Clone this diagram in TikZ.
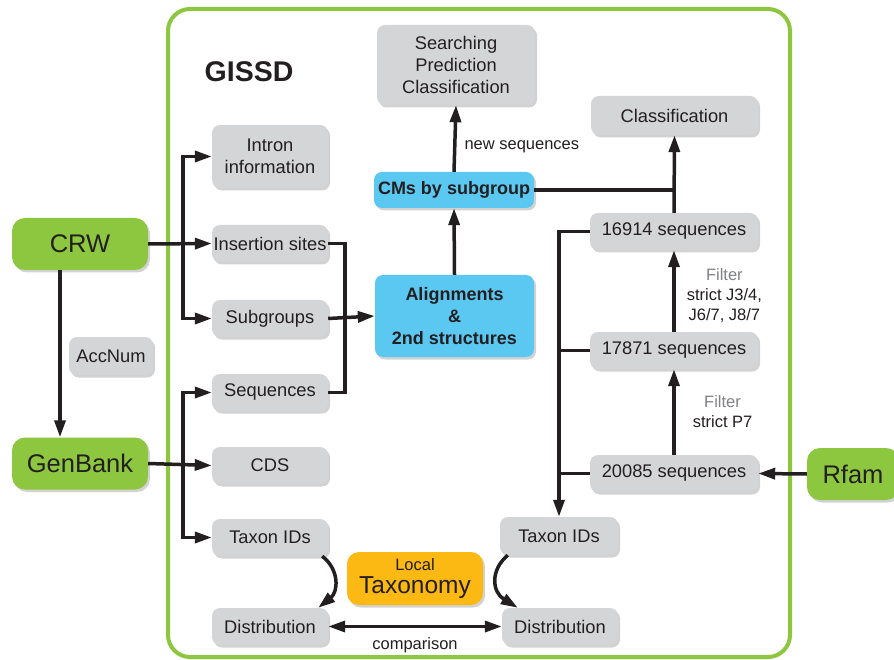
\documentclass[tikz,border=0pt]{standalone}
\usepackage{fontspec}
\setmainfont{Liberation Sans}
\usetikzlibrary{arrows.meta,shadows}
\definecolor{grn}{HTML}{8DC63F}
\definecolor{boxgray}{HTML}{D4D5D7}
\definecolor{blu}{HTML}{5BC8F2}
\definecolor{ylw}{HTML}{FDB913}
\definecolor{txt}{HTML}{231F20}
\definecolor{ftxt}{HTML}{808285}
\begin{document}
\begin{tikzpicture}[x=1pt,y=-1pt,
  shd/.style={drop shadow={shadow xshift=2pt,shadow yshift=-2.5pt,opacity=.35}},
  box/.style={shd,rounded corners=8pt,fill=boxgray,minimum height=37pt,minimum width=116pt,
    inner sep=0pt,align=center,text=txt,font=\fontsize{18.3}{22}\selectfont},
  bluebox/.style={box,fill=blu,font=\bfseries\fontsize{18}{22}\selectfont},
  ybox/.style={box,fill=ylw,rounded corners=12pt,font=\fontsize{24.5}{23.5}\selectfont},
  gbox/.style={box,fill=grn,rounded corners=13pt,minimum width=136pt,minimum height=52pt,
    font=\fontsize{25.5}{30}\selectfont},
  lbl/.style={inner sep=0pt,align=center,text=txt,font=\fontsize{16.5}{20}\selectfont},
  conn/.style={line width=3.5pt,draw=txt},
  arr/.style={conn,-{Triangle[length=17pt,width=11pt]}},
  arrB/.style={conn,{Triangle[length=17pt,width=11pt]}-{Triangle[length=17pt,width=11pt]}}]
\useasboundingbox (0,0) rectangle (894,660);
\fill[white] (0,0) rectangle (894,660);
% outer frame
\draw[grn,line width=4pt,rounded corners=22pt] (168,9) rectangle (790,657);
\node[inner sep=0pt,text=txt,font=\bfseries\fontsize{28.5}{32}\selectfont] (title) at (249,72) {GISSD};
% gray boxes
\node[box,minimum width=158pt,minimum height=80pt] (spc) at (456,65) {Searching\\Prediction\\Classification};
\node[box,minimum width=167pt,minimum height=39pt] (cls) at (674.5,115.5) {Classification};
\node[box,minimum height=63pt] (intr) at (270,156.5) {Intron\\information};
\node[box] (ins) at (270,243.5) {Insertion sites};
\node[box] (sub) at (270,318.5) {Subgroups};
\node[box] (seq) at (270,392.5) {Sequences};
\node[box] (cds) at (270,465.5) {CDS};
\node[box] (tl) at (270,537.5) {Taxon IDs};
\node[box] (dl) at (270,626.5) {Distribution};
\node[box,minimum width=84pt,minimum height=38pt] (acc) at (111,356) {AccNum};
\node[box,minimum width=168pt] (s16) at (674,231.5) {16914 sequences};
\node[box,minimum width=168pt] (s17) at (674,350.5) {17871 sequences};
\node[box,minimum width=168pt] (s20) at (674,473.5) {20085 sequences};
\node[box,minimum width=118pt,minimum height=38pt] (tr) at (559,536) {Taxon IDs};
\node[box] (dr) at (560,626.5) {Distribution};
% blue boxes
\node[bluebox,minimum width=160pt,minimum height=36pt] (cm) at (454,190) {CMs by subgroup};
\node[bluebox,minimum width=159pt,minimum height=82pt] (aln) at (454.5,316) {Alignments\\\&\\2nd structures};
% yellow
\node[ybox,minimum width=136pt,minimum height=53pt] (lt) at (415,578.5) {{\fontsize{16.5}{23.5}\selectfont Local}\\Taxonomy};
% green
\node[gbox] (crw) at (80,244) {CRW};
\node[gbox] (gb) at (80,463.5) {GenBank};
\node[gbox,minimum width=92pt] (rf) at (853,474) {Rfam};
% connectors
\coordinate (cx) at (60,0);
\draw[arr] (crw.south -| cx) -- (gb.north -| cx);
\draw[arr] (crw.east) -- (ins.west);
\draw[arrB] (intr.west) -| (183,244) |- (sub.west);
\draw[arr] (gb.east) -- (cds.west);
\draw[arrB] (seq.west) -| (183,465) |- (tl.west);
\draw[conn] (ins.east) -| (345,318.5) |- (seq.east);
\draw[arr] (sub.east) -- (aln.west);
\draw[arr] (aln.north) -- (cm.south);
\draw[arr] (cm.north) -- (spc.south) node[lbl,pos=0.38,right=8pt] {new sequences};
\draw[conn] (cm.east) -- (cm.east -| cls.south);
\draw[arr] (s16.north) -- (cls.south);
\draw[arr] (s17.north) -- (s16.south) node[lbl,pos=0.45,right=11pt] {{\color{ftxt}Filter}\\strict J3/4,\\J6/7, J8/7};
\draw[arr] (s20.north) -- (s17.south) node[lbl,pos=0.5,right=17pt] {{\color{ftxt}Filter}\\strict P7};
\draw[arr] (rf.west) -- (s20.east);
\draw[arr] (s16.west) -| (tr.north);
\draw[conn] (s17.west) -- (s17.west -| tr.north);
\draw[conn] (s20.west) -- (s20.west -| tr.north);
\draw[arr] ([xshift=-6pt]tl.south east) .. controls (340,570) and (338,592) .. ([xshift=-10pt]dl.north east);
\draw[arr] ([xshift=8pt]tr.south west) .. controls (490,570) and (492,592) .. ([xshift=16pt]dr.north west);
\draw[arrB] (dl.east) -- (dr.west) node[lbl,midway,below=9pt] {comparison};
\end{tikzpicture}
\end{document}
